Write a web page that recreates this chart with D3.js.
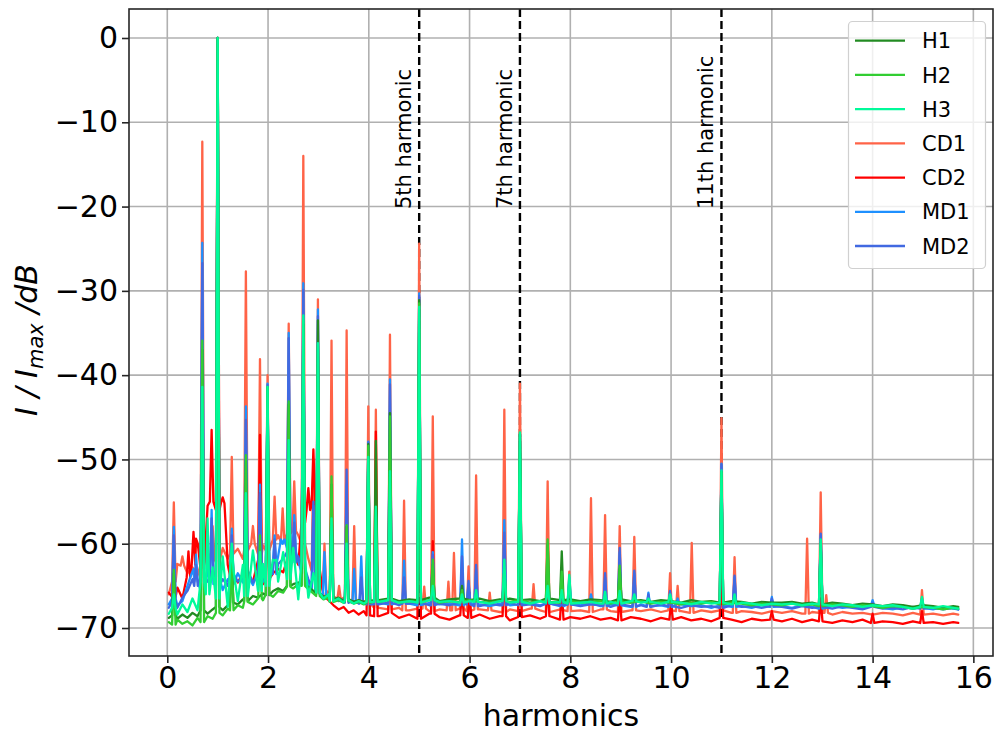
<!DOCTYPE html>
<html>
<head>
<meta charset="utf-8">
<script src="https://cdn.jsdelivr.net/npm/d3@7"></script>
<style>
  body { margin: 0; background: #fff; }
  svg { display: block; font-family: "DejaVu Sans", sans-serif; }
</style>
</head>
<body>
<svg id="chart" width="995" height="734"></svg>
<script>
// ---- axis ticks ----
const xTicks = [0, 2, 4, 6, 8, 10, 12, 14, 16];
const yTicks = [0, -10, -20, -30, -40, -50, -60, -70];

// ---- marked harmonics ----
const markedHarmonics = [5, 7, 11];
const markedLabels = ["5th harmonic", "7th harmonic", "11th harmonic"];

// ---- series names and colours ----
const seriesNames = ["H1", "H2", "H3", "CD1", "CD2", "MD1", "MD2"];
const seriesColors = ["#228b22", "#32cd32", "#00fa9a", "#ff6347", "#ff0000", "#1e90ff", "#4169e1"];

// ---- harmonic positions where the noise floor was sampled ----
const floorHarmonics = [0.03]
  .concat(d3.range(1, 41).map(i => i / 10))   // 0.1 .. 4.0
  .concat(d3.range(21, 79).map(i => i / 5))   // 4.2 .. 15.6
  .concat([15.7]);

// ---- noise floor per series (dB) ----
const floorH1 = [
  -68.8,
  -68.5, -68.9, -68.4, -68.8, -68.2, -68.6, -67.9, -68.3, -67.8, -67.5,
  -67.9, -67.3, -67.0, -67.2, -66.6, -66.8, -66.2, -66.4, -65.9, -66.1,
  -65.6, -65.3, -65.6, -65.0, -64.8, -64.6, -64.9, -65.1, -65.6, -65.9,
  -66.3, -66.1, -66.6, -66.4, -66.8, -66.6, -66.9, -66.7, -66.9, -66.8,
  -66.7, -66.5, -66.8, -66.6, -66.7, -66.4, -66.8, -66.6, -66.5, -66.7,
  -66.5, -66.8, -66.6, -66.5, -66.7, -66.6, -66.8, -66.5, -66.7, -66.6,
  -66.8, -66.6, -66.7, -66.9, -66.6, -66.8, -66.7, -66.9, -66.7, -66.8,
  -67.0, -66.7, -66.9, -66.8, -67.0, -66.8, -66.9, -67.1, -66.9, -67.0,
  -67.0, -66.9, -67.1, -67.0, -67.2, -67.0, -67.1, -67.3, -67.1, -67.2,
  -67.4, -67.2, -67.3, -67.5, -67.3, -67.4, -67.6, -67.4,
  -67.5
];
const floorH2 = [
  -69.3,
  -69.6, -69.0, -69.5, -69.2, -69.7, -68.8, -69.3, -68.6, -68.9, -68.2,
  -68.5, -67.7, -67.9, -67.3, -67.6, -66.9, -67.2, -66.5, -66.7, -66.0,
  -66.3, -65.6, -65.8, -65.1, -65.3, -64.8, -65.0, -65.4, -65.9, -66.2,
  -66.6, -66.4, -66.9, -66.7, -67.0, -66.8, -67.1, -66.9, -67.2, -67.0,
  -66.9, -66.7, -67.0, -66.8, -66.9, -66.7, -67.0, -66.8, -66.9, -66.7,
  -66.9, -67.0, -66.8, -66.9, -66.7, -67.0, -66.8, -66.9, -67.0, -66.8,
  -67.0, -66.9, -66.8, -67.1, -66.9, -67.0, -66.8, -67.1, -66.9, -67.0,
  -67.2, -67.0, -67.1, -66.9, -67.2, -67.0, -67.1, -67.3, -67.1, -67.2,
  -67.3, -67.1, -67.3, -67.2, -67.4, -67.2, -67.3, -67.5, -67.3, -67.4,
  -67.6, -67.4, -67.5, -67.7, -67.5, -67.6, -67.8, -67.6,
  -67.7
];
const floorH3 = [
  -68.3,
  -67.6, -68.4, -67.2, -68.1, -66.5, -67.9, -64.5, -66.0, -62.8, -66.5,
  -61.5, -67.5, -63.2, -66.8, -62.5, -66.2, -60.8, -65.6, -62.4, -65.0,
  -61.9, -64.5, -61.0, -64.2, -60.5, -66.6, -62.0, -66.4, -63.5, -65.8,
  -66.5, -66.0, -66.8, -66.5, -67.0, -66.7, -67.1, -66.8, -67.1, -66.9,
  -66.9, -66.7, -67.0, -66.8, -67.0, -66.7, -66.9, -66.8, -67.0, -66.8,
  -66.9, -67.1, -66.8, -67.0, -66.9, -67.1, -66.8, -67.0, -66.9, -67.1,
  -67.0, -66.9, -67.1, -66.9, -67.1, -66.8, -67.0, -66.9, -67.1, -66.9,
  -67.0, -67.2, -66.9, -67.1, -67.0, -67.2, -67.0, -67.1, -67.3, -67.1,
  -67.2, -67.1, -67.3, -67.1, -67.2, -67.4, -67.2, -67.3, -67.5, -67.3,
  -67.4, -67.3, -67.5, -67.7, -67.5, -67.6, -67.4, -67.6,
  -67.7
];
const floorCD1 = [
  -66.0,
  -64.5, -62.4, -62.6, -63.5, -62.8, -63.8, -62.5, -61.0, -61.8, -62.2,
  -60.5, -61.8, -61.2, -60.6, -61.8, -60.8, -60.0, -61.2, -60.2, -60.8,
  -59.5, -59.0, -59.8, -58.8, -58.5, -59.0, -60.0, -61.8, -63.2, -64.5,
  -65.5, -66.0, -66.2, -66.6, -66.4, -66.8, -66.6, -67.0, -66.8, -67.1,
  -67.6, -67.8, -67.6, -67.9, -67.7, -68.0, -67.8, -67.9, -67.7, -68.0,
  -67.8, -67.9, -68.1, -67.8, -68.0, -67.7, -67.9, -68.1, -67.8, -68.0,
  -67.9, -68.1, -67.8, -68.0, -68.1, -67.9, -68.0, -67.8, -68.1, -67.9,
  -68.0, -68.2, -67.9, -68.1, -67.9, -68.2, -68.0, -68.1, -68.3, -68.0,
  -68.2, -68.0, -68.3, -68.1, -68.2, -68.4, -68.1, -68.3, -68.2, -68.4,
  -68.2, -68.3, -68.5, -68.2, -68.4, -68.3, -68.5, -68.3,
  -68.4
];
const floorCD2 = [
  -65.8,
  -66.3, -65.2, -66.5, -64.0, -62.5, -60.0, -63.0, -55.5, -55.0, -56.0,
  -55.2, -62.5, -63.8, -64.6, -63.5, -64.0, -64.5, -62.0, -64.8, -64.2,
  -63.5, -63.0, -63.4, -62.0, -61.0, -62.5, -57.5, -56.0, -55.5, -63.0,
  -66.2, -66.7, -67.3, -67.8, -67.5, -68.2, -67.9, -68.4, -68.0, -68.5,
  -68.6, -68.2, -68.8, -68.4, -68.9, -68.3, -68.7, -69.0, -68.5, -68.8,
  -68.4, -68.9, -68.6, -69.1, -68.7, -68.5, -68.9, -68.6, -69.0, -68.7,
  -68.9, -68.6, -69.0, -68.8, -69.1, -68.7, -68.9, -69.2, -68.8, -69.0,
  -68.7, -69.1, -68.9, -69.2, -68.8, -69.0, -69.3, -68.9, -69.1, -69.0,
  -69.2, -68.9, -69.3, -69.0, -69.2, -69.4, -69.1, -69.3, -69.0, -69.4,
  -69.2, -69.3, -69.5, -69.2, -69.4, -69.3, -69.5, -69.3,
  -69.4
];
const floorMD1 = [
  -67.2,
  -66.5, -67.3, -66.8, -65.0, -63.5, -64.5, -65.5, -63.0, -64.8, -64.0,
  -65.5, -64.2, -64.8, -63.5, -64.6, -63.8, -64.9, -63.2, -64.5, -63.8,
  -62.5, -61.5, -59.5, -60.5, -61.0, -62.0, -63.5, -64.8, -65.5, -66.0,
  -66.4, -66.2, -66.7, -66.5, -66.9, -66.7, -67.0, -66.8, -67.1, -66.9,
  -67.0, -67.2, -66.9, -67.1, -67.3, -67.0, -67.2, -67.1, -67.3, -67.0,
  -67.2, -67.4, -67.1, -67.3, -67.2, -67.0, -67.3, -67.1, -67.4, -67.2,
  -67.3, -67.1, -67.4, -67.2, -67.3, -67.5, -67.2, -67.4, -67.3, -67.5,
  -67.2, -67.4, -67.3, -67.6, -67.3, -67.5, -67.4, -67.6, -67.3, -67.5,
  -67.4, -67.6, -67.3, -67.5, -67.7, -67.4, -67.6, -67.5, -67.7, -67.4,
  -67.6, -67.8, -67.5, -67.7, -67.6, -67.8, -67.5, -67.7,
  -67.8
];
const floorMD2 = [
  -67.6,
  -66.9, -67.6, -66.4, -65.6, -64.2, -65.0, -64.0, -64.5, -63.8, -65.0,
  -64.2, -65.0, -63.6, -64.5, -64.0, -63.2, -64.6, -63.8, -64.2, -63.0,
  -63.6, -62.4, -61.8, -61.0, -62.2, -61.5, -63.0, -64.2, -65.2, -65.8,
  -66.3, -66.5, -66.4, -66.8, -66.6, -67.0, -66.8, -67.1, -66.9, -67.2,
  -67.2, -67.0, -67.3, -67.1, -67.0, -67.3, -67.1, -67.3, -67.0, -67.2,
  -67.4, -67.1, -67.3, -67.0, -67.3, -67.2, -67.4, -67.1, -67.3, -67.2,
  -67.4, -67.2, -67.3, -67.5, -67.2, -67.4, -67.3, -67.5, -67.2, -67.4,
  -67.6, -67.3, -67.5, -67.4, -67.6, -67.3, -67.5, -67.4, -67.6, -67.4,
  -67.5, -67.7, -67.4, -67.6, -67.5, -67.7, -67.4, -67.6, -67.8, -67.5,
  -67.7, -67.6, -67.8, -67.5, -67.7, -67.6, -67.8, -67.6,
  -67.8
];

// ---- spectral peaks per series: [harmonic, dB] ----
const peaksH1 = [
  [0.13, -63.5], [0.695, -37.0], [1.0, 0], [1.28, -62.5], [1.56, -50.0], [1.99, -41.5],
  [2.41, -43.5], [2.70, -34.0], [2.99, -33.5], [3.26, -53.0], [3.56, -58.0], [3.99, -48.2],
  [4.14, -47.8], [4.42, -44.5], [5.0, -31.1], [5.27, -62.5], [5.85, -65.0], [6.69, -63.0],
  [7.0, -47.0], [7.55, -60.0], [7.83, -60.9], [8.98, -63.0], [11.0, -51.5], [12.97, -60.0]
];
const peaksH2 = [
  [0.13, -63.1], [0.695, -35.9], [1.0, 0], [1.28, -62.0], [1.56, -49.5], [1.84, -59.0],
  [1.99, -41.4], [2.41, -43.1], [2.70, -33.5], [2.99, -36.5], [3.26, -52.0], [3.56, -57.8],
  [3.99, -48.4], [4.14, -56.0], [4.42, -44.9], [5.0, -31.5], [5.27, -61.9], [5.85, -65.5],
  [6.69, -63.0], [7.0, -47.0], [7.55, -59.5], [7.83, -63.3], [8.98, -62.6], [11.0, -51.5],
  [12.97, -60.0]
];
const peaksH3 = [
  [0.13, -66.0], [0.695, -41.4], [0.80, -57.0], [1.0, 0], [1.28, -60.0], [1.56, -54.0],
  [1.84, -61.0], [1.99, -41.4], [2.13, -62.0], [2.41, -47.7], [2.70, -32.9], [2.99, -36.2],
  [3.26, -57.0], [3.56, -60.0], [3.99, -49.7], [4.14, -55.6], [4.42, -51.4], [5.0, -31.9],
  [5.27, -65.0], [5.85, -66.0], [6.13, -65.5], [6.69, -61.9], [7.0, -46.8], [7.55, -65.0],
  [7.83, -65.5], [7.98, -63.7], [8.69, -65.7], [8.98, -65.6], [9.27, -66.0], [9.55, -66.5],
  [9.98, -66.0], [11.0, -51.3], [11.26, -66.0], [12.97, -59.5], [14.98, -66.3]
];
const peaksCD1 = [
  [0.13, -55.1], [0.30, -61.5], [0.695, -12.3], [0.90, -57.9], [1.0, 0], [1.28, -49.7],
  [1.56, -27.7], [1.70, -57.9], [1.84, -38.1], [1.99, -40.0], [2.13, -54.4], [2.29, -55.8],
  [2.41, -33.9], [2.52, -52.6], [2.70, -14.0], [2.90, -50.0], [2.99, -31.0], [3.12, -60.0],
  [3.26, -35.9], [3.41, -65.0], [3.56, -34.7], [3.71, -57.9], [3.99, -43.7], [4.14, -44.1],
  [4.42, -35.2], [4.70, -54.9], [5.0, -24.4], [5.10, -65.1], [5.27, -44.9], [5.58, -64.5],
  [5.69, -61.1], [5.85, -65.0], [5.98, -62.7], [6.13, -51.9], [6.40, -65.8], [6.69, -44.1],
  [7.0, -41.0], [7.27, -64.8], [7.55, -52.6], [7.98, -63.3], [8.41, -54.6], [8.69, -56.6],
  [8.98, -57.9], [9.27, -59.2], [9.98, -63.5], [10.13, -65.0], [10.41, -59.9], [11.0, -45.1],
  [11.26, -61.6], [12.70, -59.4], [12.97, -53.9], [13.08, -66.1], [14.98, -65.5]
];
const peaksCD2 = [
  [0.13, -63.5], [0.42, -60.9], [0.52, -58.6], [0.57, -59.4], [0.695, -50.0], [0.88, -46.5],
  [1.0, 0], [1.10, -54.5], [1.28, -60.0], [1.56, -50.0], [1.84, -47.1], [1.99, -50.0],
  [2.41, -56.0], [2.70, -45.0], [2.80, -53.4], [2.90, -48.8], [2.99, -55.0], [3.99, -55.0],
  [4.14, -46.7], [4.42, -60.0], [5.0, -50.0], [5.27, -59.7], [5.85, -65.5], [6.0, -65.8],
  [6.69, -63.0], [7.0, -55.0], [7.55, -64.5], [7.83, -65.5], [8.98, -66.0], [10.0, -67.0],
  [11.0, -64.0], [12.0, -68.0], [12.97, -66.5], [14.0, -68.3], [14.98, -68.0]
];
const peaksMD1 = [
  [0.13, -58.0], [0.52, -63.0], [0.57, -61.3], [0.695, -24.3], [0.88, -56.0], [1.0, 0],
  [1.28, -58.2], [1.56, -43.7], [1.84, -53.0], [1.99, -41.0], [2.13, -59.0], [2.29, -60.0],
  [2.41, -35.0], [2.52, -56.6], [2.70, -29.1], [2.90, -55.5], [2.99, -32.2], [3.12, -61.0],
  [3.26, -55.0], [3.56, -53.0], [3.71, -63.0], [3.85, -61.5], [3.99, -47.9], [4.14, -56.0],
  [4.42, -40.5], [4.70, -62.0], [5.0, -30.3], [5.27, -61.0], [5.85, -59.5], [5.98, -64.8],
  [6.13, -63.0], [6.69, -57.2], [7.0, -47.0], [7.55, -62.0], [7.83, -65.0], [7.98, -64.0],
  [8.41, -66.0], [8.69, -64.0], [8.98, -61.0], [9.27, -63.5], [9.55, -65.8], [9.98, -65.9],
  [10.13, -66.5], [11.0, -50.5], [11.26, -64.0], [12.0, -66.3], [12.97, -59.0], [14.0, -66.7],
  [14.98, -66.5]
];
const peaksMD2 = [
  [0.13, -59.0], [0.57, -62.5], [0.695, -26.7], [0.88, -57.0], [1.0, 0], [1.28, -59.0],
  [1.56, -45.3], [1.84, -54.0], [1.99, -41.2], [2.13, -59.5], [2.41, -35.6], [2.52, -57.5],
  [2.70, -29.9], [2.90, -55.0], [2.99, -33.0], [3.26, -55.5], [3.56, -51.2], [3.85, -64.0],
  [3.99, -48.0], [4.14, -56.5], [4.42, -41.1], [4.70, -64.0], [5.0, -30.6], [5.27, -61.3],
  [5.85, -61.5], [5.98, -64.4], [6.13, -62.5], [6.69, -58.7], [7.0, -47.0], [7.55, -62.5],
  [7.98, -64.5], [8.69, -63.5], [8.98, -60.5], [9.27, -63.2], [9.55, -66.0], [9.98, -65.6],
  [11.0, -50.6], [11.26, -63.8], [12.0, -66.5], [12.97, -58.8], [14.0, -67.0], [14.98, -66.7]
];

const floors = [floorH1, floorH2, floorH3, floorCD1, floorCD2, floorMD1, floorMD2];
const peaks = [peaksH1, peaksH2, peaksH3, peaksCD1, peaksCD2, peaksMD1, peaksMD2];
floors.forEach((f, i) => {
  if (f.length !== floorHarmonics.length) throw new Error(seriesNames[i] + " floor length " + f.length);
});

// ---- layout ----
const svg = d3.select("#chart");
const plot = { left: 129, right: 993, top: 9, bottom: 656 };

const x = d3.scaleLinear().domain([-0.76, 16.39]).range([plot.left, plot.right]);
const y = d3.scaleLinear().domain([-73.32, 3.44]).range([plot.bottom, plot.top]);

svg.append("defs").append("clipPath").attr("id", "plotClip")
  .append("rect")
  .attr("x", plot.left).attr("y", plot.top)
  .attr("width", plot.right - plot.left).attr("height", plot.bottom - plot.top);

// grid
const grid = svg.append("g").attr("stroke", "#b0b0b0").attr("stroke-width", 1.6);
grid.selectAll(".gx").data(xTicks).join("line")
  .attr("x1", d => x(d)).attr("x2", d => x(d))
  .attr("y1", plot.top).attr("y2", plot.bottom);
grid.selectAll(".gy").data(yTicks).join("line")
  .attr("x1", plot.left).attr("x2", plot.right)
  .attr("y1", d => y(d)).attr("y2", d => y(d));

// dashed markers at the characteristic harmonics
svg.append("g").selectAll("line").data(markedHarmonics).join("line")
  .attr("x1", d => x(d)).attr("x2", d => x(d))
  .attr("y1", plot.top).attr("y2", plot.bottom)
  .attr("stroke", "#000").attr("stroke-width", 2.4)
  .attr("stroke-dasharray", "8,4");

// build one spectrum trace: floor samples plus narrow spikes at the peaks
const halfWidth = 0.035;
function buildTrace(floorVals, peakList) {
  const nearestFloor = h => floorVals[d3.minIndex(floorHarmonics, g => Math.abs(g - h))];
  const pts = floorHarmonics
    .map((h, i) => [h, floorVals[i]])
    .filter(([h]) => !peakList.some(([p]) => Math.abs(p - h) < halfWidth + 1e-9));
  peakList.forEach(([p, v]) => {
    const base = nearestFloor(p);
    pts.push([p - halfWidth, base], [p, v], [p + halfWidth, base]);
  });
  return pts.sort((a, b) => a[0] - b[0]);
}

const line = d3.line().x(d => x(d[0])).y(d => y(d[1]));

// drawing order: CD1, CD2, MD1, MD2, H1, H2, H3 (H3 on top)
const drawOrder = [3, 4, 5, 6, 0, 1, 2];
const traces = svg.append("g").attr("clip-path", "url(#plotClip)");
drawOrder.forEach(i => {
  traces.append("path")
    .attr("d", line(buildTrace(floors[i], peaks[i])))
    .attr("fill", "none")
    .attr("stroke", seriesColors[i])
    .attr("stroke-width", 2.3)
    .attr("stroke-linejoin", "round")
    .attr("stroke-linecap", "round");
});

// labels of the dashed markers
svg.append("g").selectAll("text").data(markedHarmonics).join("text")
  .attr("transform", d => `translate(${x(d) - 8},209) rotate(-90)`)
  .attr("text-anchor", "start")
  .attr("font-size", 21)
  .attr("fill", "#000")
  .text((d, i) => markedLabels[i]);

// frame
svg.append("rect")
  .attr("x", plot.left).attr("y", plot.top)
  .attr("width", plot.right - plot.left).attr("height", plot.bottom - plot.top)
  .attr("fill", "none").attr("stroke", "#262626").attr("stroke-width", 1.6);

// axes
const fmt = d3.format("d");
const xAxis = svg.append("g")
  .attr("transform", `translate(0,${plot.bottom})`)
  .call(d3.axisBottom(x).tickValues(xTicks).tickFormat(fmt).tickSize(7).tickPadding(4));
const yAxis = svg.append("g")
  .attr("transform", `translate(${plot.left},0)`)
  .call(d3.axisLeft(y).tickValues(yTicks).tickFormat(fmt).tickSize(7).tickPadding(4));
[xAxis, yAxis].forEach(a => {
  a.select(".domain").remove();
  a.selectAll(".tick line").attr("stroke", "#262626").attr("stroke-width", 1.6);
  a.selectAll(".tick text")
    .attr("font-family", "DejaVu Sans, sans-serif")
    .attr("font-size", 30)
    .attr("fill", "#000");
});

// axis titles
svg.append("text")
  .attr("x", (plot.left + plot.right) / 2).attr("y", 726)
  .attr("text-anchor", "middle").attr("font-size", 30).attr("fill", "#000")
  .text("harmonics");

const yTitle = svg.append("text")
  .attr("transform", "translate(37,340) rotate(-90)")
  .attr("text-anchor", "middle").attr("font-size", 30).attr("font-style", "italic")
  .attr("fill", "#000");
yTitle.append("tspan").text("I / I");
yTitle.append("tspan").attr("font-size", 21).attr("dy", 6).text("max");
yTitle.append("tspan").attr("dy", -6).text(" /dB");

// legend
const legend = svg.append("g");
legend.append("rect")
  .attr("x", 848.5).attr("y", 21.5).attr("width", 137).attr("height", 247)
  .attr("rx", 4).attr("fill", "#fff").attr("fill-opacity", 0.8)
  .attr("stroke", "#d0d0d0").attr("stroke-width", 1.2);
const rowY = d3.scaleLinear().domain([0, 6]).range([40.7, 246]);
const rows = legend.selectAll("g.row").data(seriesNames).join("g")
  .attr("transform", (d, i) => `translate(0,${rowY(i)})`);
rows.append("line")
  .attr("x1", 855).attr("x2", 905)
  .attr("stroke", (d, i) => seriesColors[i]).attr("stroke-width", 2.3);
rows.append("text")
  .attr("x", 922).attr("y", 7.6)
  .attr("font-size", 21).attr("fill", "#000")
  .text(d => d);
</script>
</body>
</html>
